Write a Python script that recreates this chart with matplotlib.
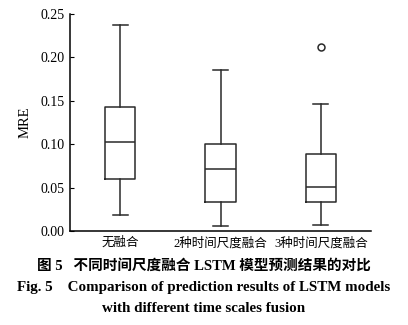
import matplotlib
matplotlib.use("Agg")
import matplotlib.pyplot as plt

plt.rcParams['font.family'] = ['Liberation Serif', 'Noto Sans CJK SC']

# data
categories = ['无融合', '2种时间尺度融合', '3种时间尺度融合']
whislo = [0.0184, 0.0065, 0.0076]
q1 = [0.0605, 0.0337, 0.0337]
med = [0.1024, 0.0713, 0.0510]
q3 = [0.1427, 0.1005, 0.0890]
whishi = [0.2377, 0.1853, 0.1461]
fliers = [[], [], [0.2117]]

stats = []
for i, name in enumerate(categories):
    stats.append(dict(label=name, whislo=whislo[i], q1=q1[i], med=med[i],
                      q3=q3[i], whishi=whishi[i], fliers=fliers[i]))

fig = plt.figure(figsize=(4.08, 3.25), dpi=100)
ax = fig.add_axes([70 / 408, 1 - 231.3 / 325, 301 / 408, 217.3 / 325])

lw = 1.1
col = '#2a2a2a'
ax.bxp(stats, positions=[1, 2, 3], widths=0.3, showfliers=True,
       boxprops=dict(color=col, linewidth=lw),
       medianprops=dict(color=col, linewidth=lw),
       whiskerprops=dict(color=col, linewidth=lw),
       capprops=dict(color=col, linewidth=lw),
       flierprops=dict(marker='o', markersize=5, markerfacecolor='none',
                       markeredgecolor=col, markeredgewidth=1.1))

ax.set_xlim(0.5, 3.5)
ax.set_ylim(0, 0.25)
ax.set_yticks([0, 0.05, 0.10, 0.15, 0.20, 0.25])
ax.set_yticklabels(['0.00', '0.05', '0.10', '0.15', '0.20', '0.25'])
ax.set_xticks([1, 2, 3])
ax.set_xticklabels(categories)
ax.spines['top'].set_visible(False)
ax.spines['right'].set_visible(False)
ax.spines['left'].set_linewidth(1.1)
ax.spines['bottom'].set_linewidth(1.1)
ax.tick_params(axis='y', direction='in', length=3, labelsize=10, pad=4)
ax.tick_params(axis='x', length=0, labelsize=9, pad=4)
ax.set_ylabel('MRE', fontsize=10.5, labelpad=6)

fig.text(0.5, 1 - 266 / 325, '图 5   不同时间尺度融合 LSTM 模型预测结果的对比',
         ha='center', va='center', fontsize=10.5, fontweight='bold')
fig.text(0.5, 1 - 287 / 325, 'Fig. 5    Comparison of prediction results of LSTM models',
         ha='center', va='center', fontsize=10.8, fontweight='bold')
fig.text(0.5, 1 - 309 / 325, 'with different time scales fusion',
         ha='center', va='center', fontsize=10.8, fontweight='bold')

fig.savefig('out.png', dpi=100)
